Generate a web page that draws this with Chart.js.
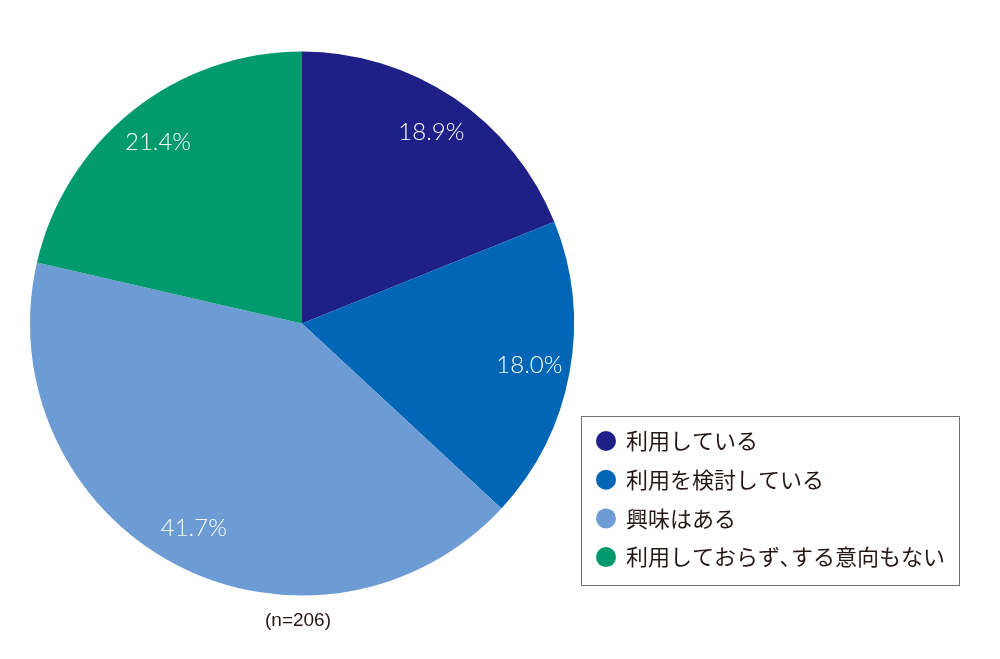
<!DOCTYPE html>
<html><head><meta charset="utf-8">
<script src="https://cdn.jsdelivr.net/npm/chart.js@4"></script>
<style>html,body{margin:0;padding:0;background:#fff;}#wrap{width:1000px;height:659px;position:relative;}</style>
</head><body><div id="wrap"><canvas id="c" width="1000" height="659"></canvas></div>
<script>
const categories = ["利用している", "利用を検討している", "興味はある", "利用しておらず、する意向もない"];
const legendLabels = ["利用している", "利用を検討している", "興味はある", "利用しておらず､する意向もない"];
const values = [18.9, 18.0, 41.7, 21.4];
const colors = ["#1f1f88", "#0066b5", "#6d9bd3", "#009a6e"];
const note = "(n=206)";

const labelPlugin = {
  id: 'sliceLabels',
  afterDatasetsDraw(chart) {
    const ctx = chart.ctx;
    const meta = chart.getDatasetMeta(0);
    ctx.save();
    ctx.fillStyle = '#ffffff';
    ctx.font = '300 24px Lato, "Noto Sans", sans-serif';
    ctx.textAlign = 'center';
    ctx.textBaseline = 'middle';
    meta.data.forEach((arc, i) => {
      const p = arc.getProps(['x','y','startAngle','endAngle','outerRadius'], true);
      const mid = (p.startAngle + p.endAngle) / 2;
      const r = p.outerRadius * 0.85;
      ctx.fillText(values[i].toFixed(1) + '%', p.x + Math.cos(mid) * r, p.y + Math.sin(mid) * r);
    });
    ctx.restore();
  }
};

const legendPlugin = {
  id: 'boxLegend',
  afterDraw(chart) {
    const ctx = chart.ctx;
    ctx.save();
    const bx = 581.5, by = 416.5, bw = 378, bh = 169;
    ctx.strokeStyle = '#707070';
    ctx.lineWidth = 1;
    ctx.strokeRect(bx, by, bw, bh);
    ctx.font = '400 22px "Noto Sans CJK JP", sans-serif';
    ctx.textAlign = 'left';
    ctx.textBaseline = 'middle';
    legendLabels.forEach((t, i) => {
      const y = 441 + i * 38.7;
      ctx.fillStyle = colors[i];
      ctx.beginPath();
      ctx.arc(606, y, 10, 0, Math.PI * 2);
      ctx.fill();
      ctx.fillStyle = '#231815';
      ctx.fillText(t, 626, y);
    });
    ctx.font = '19px "Liberation Sans", Arial, sans-serif';
    ctx.textAlign = 'center';
    ctx.fillStyle = '#231815';
    ctx.fillText(note, 298, 621);
    ctx.restore();
  }
};

new Chart(document.getElementById('c'), {
  type: 'pie',
  data: {
    labels: categories,
    datasets: [{ data: values, backgroundColor: colors, borderWidth: 0 }]
  },
  options: {
    responsive: false,
    animation: false,
    layout: { padding: { left: 30, right: 426, top: 51.5, bottom: 63.5 } },
    plugins: { legend: { display: false }, tooltip: { enabled: false } }
  },
  plugins: [labelPlugin, legendPlugin]
});
</script></body></html>
